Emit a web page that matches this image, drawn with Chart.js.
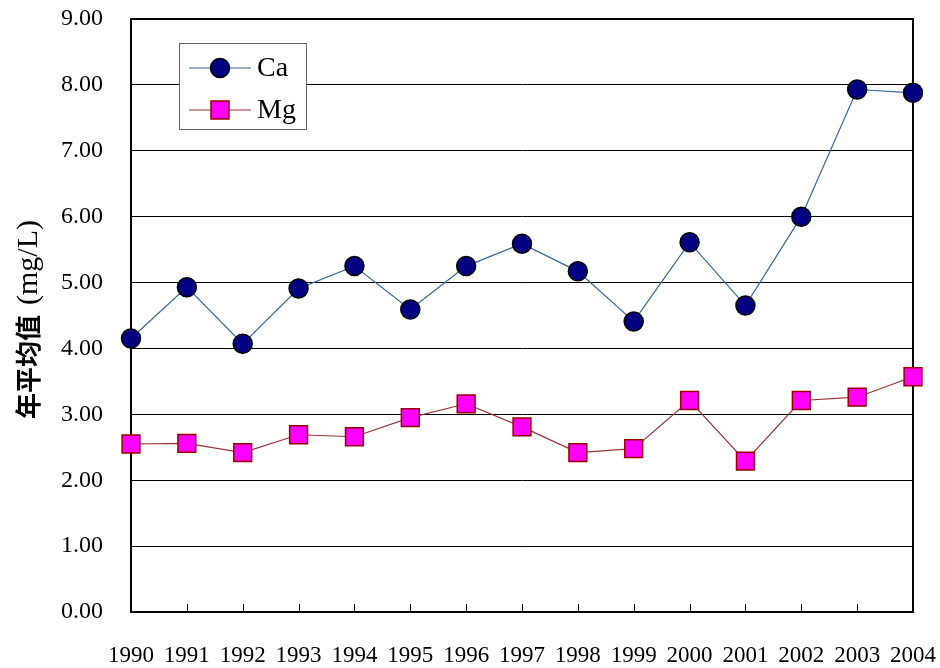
<!DOCTYPE html>
<html>
<head>
<meta charset="utf-8">
<script src="https://cdn.jsdelivr.net/npm/chart.js@4/dist/chart.umd.min.js"></script>
<style>
  html, body { margin: 0; padding: 0; background: #fff; }
  #wrap { width: 940px; height: 668px; }
</style>
</head>
<body>
<div id="wrap"><canvas id="chartLine" width="940" height="668"></canvas></div>
<script>
var years = ['1990', '1991', '1992', '1993', '1994', '1995', '1996', '1997', '1998', '1999', '2000', '2001', '2002', '2003', '2004'];
var caValues = [4.15, 4.93, 4.07, 4.91, 5.25, 4.59, 5.25, 5.59, 5.17, 4.41, 5.61, 4.65, 6.00, 7.93, 7.88];
var mgValues = [2.55, 2.56, 2.42, 2.69, 2.66, 2.95, 3.16, 2.81, 2.42, 2.48, 3.21, 2.29, 3.21, 3.26, 3.57];
var seriesNames = ['Ca', 'Mg'];
var yTitleCjk = '年平均值';
var yTitleUnit = '(mg/L)';

// frame, inner x ticks, y title and legend drawn on the canvas
var framePlugin = {
    id: 'frame',
    beforeDatasetsDraw: function (chart) {
        var ctx = chart.ctx, a = chart.chartArea, x = chart.scales.x;
        ctx.save();
        ctx.strokeStyle = '#000';
        ctx.lineWidth = 1;
        for (var i = 1; i < years.length - 1; i++) {
            var px = Math.round(x.getPixelForTick(i)) + 0.5;
            ctx.beginPath();
            ctx.moveTo(px, a.bottom);
            ctx.lineTo(px, a.bottom - 8);
            ctx.stroke();
        }
        ctx.lineWidth = 2;
        ctx.strokeRect(a.left, a.top, a.right - a.left, a.bottom - a.top);
        ctx.restore();
    },
    afterDraw: function (chart) {
        var ctx = chart.ctx, a = chart.chartArea;
        ctx.save();
        // y title
        ctx.translate(28, (a.top + a.bottom) / 2 + 4);
        ctx.rotate(-Math.PI / 2);
        ctx.fillStyle = '#000';
        ctx.textBaseline = 'middle';
        var cjkFont = 'bold 26px "Noto Sans CJK SC"';
        var serifFont = '30px "Liberation Serif"';
        ctx.font = cjkFont;
        var w1 = ctx.measureText(yTitleCjk).width + 10;
        ctx.font = serifFont;
        var w2 = ctx.measureText(yTitleUnit).width;
        var sx = -(w1 + w2) / 2;
        ctx.font = cjkFont;
        ctx.textAlign = 'left';
        ctx.fillText(yTitleCjk, sx, 0);
        ctx.font = serifFont;
        ctx.fillText(yTitleUnit, sx + w1, 1);
        ctx.restore();

        // legend box
        var lx = a.left + 48, ly = a.top + 24, lw = 127, lh = 86;
        ctx.save();
        ctx.fillStyle = '#fff';
        ctx.fillRect(lx, ly, lw, lh);
        ctx.strokeStyle = '#666';
        ctx.lineWidth = 1;
        ctx.strokeRect(lx + 0.5, ly + 0.5, lw, lh);
        chart.data.datasets.forEach(function (ds, i) {
            var cy = ly + 25 + i * 42;
            ctx.strokeStyle = ds.borderColor;
            ctx.lineWidth = 1;
            ctx.beginPath();
            ctx.moveTo(lx + 10, cy);
            ctx.lineTo(lx + 72, cy);
            ctx.stroke();
            ctx.fillStyle = ds.pointBackgroundColor;
            ctx.strokeStyle = ds.pointBorderColor;
            ctx.lineWidth = ds.pointBorderWidth;
            ctx.beginPath();
            if (ds.pointStyle === 'rect') {
                ctx.rect(lx + 41 - 9, cy - 9, 18, 18);
            } else {
                ctx.arc(lx + 41, cy, 9.5, 0, Math.PI * 2);
            }
            ctx.fill();
            ctx.stroke();
            ctx.fillStyle = '#000';
            ctx.font = '28px "Liberation Serif"';
            ctx.textAlign = 'left';
            ctx.textBaseline = 'middle';
            ctx.fillText(ds.label, lx + 78, cy + 1);
        });
        ctx.restore();
    }
};

var chart = new Chart(document.getElementById('chartLine'), {
    type: 'line',
    data: {
        labels: years,
        datasets: [{
            label: seriesNames[0],
            data: caValues,
            borderColor: '#336699',
            borderWidth: 1.2,
            pointStyle: 'circle',
            pointRadius: 9.5,
            pointHoverRadius: 9.5,
            pointBackgroundColor: '#000080',
            pointBorderColor: '#000',
            pointBorderWidth: 1.5,
            tension: 0
        }, {
            label: seriesNames[1],
            data: mgValues,
            borderColor: '#993333',
            borderWidth: 1.2,
            pointStyle: 'rect',
            pointRadius: 12.6,
            pointHoverRadius: 12.6,
            pointBackgroundColor: '#ff00ff',
            pointBorderColor: '#990000',
            pointBorderWidth: 1.5,
            tension: 0
        }]
    },
    options: {
        responsive: false,
        animation: false,
        devicePixelRatio: 1,
        layout: { padding: 0 },
        plugins: {
            legend: { display: false },
            tooltip: { enabled: false }
        },
        scales: {
            x: {
                offset: false,
                grid: { display: false, drawTicks: false },
                border: { display: true, color: '#000', width: 2 },
                ticks: {
                    color: '#000',
                    padding: 30,
                    maxRotation: 0,
                    autoSkip: false,
                    font: { family: 'Liberation Serif', size: 23 }
                },
                afterFit: function (s) {
                    s.height = 56;
                    s.paddingLeft = 0;
                    s.paddingRight = 27;
                }
            },
            y: {
                min: 0,
                max: 9,
                grid: { color: '#000', lineWidth: 1, drawTicks: false },
                border: { display: true, color: '#000', width: 2 },
                ticks: {
                    stepSize: 1,
                    color: '#000',
                    padding: 28,
                    font: { family: 'Liberation Serif', size: 24 },
                    callback: function (v) { return v.toFixed(2); }
                },
                afterFit: function (s) {
                    s.width = 131;
                    s.paddingTop = 19;
                    s.paddingBottom = 0;
                }
            }
        }
    },
    plugins: [framePlugin]
});
</script>
</body>
</html>
